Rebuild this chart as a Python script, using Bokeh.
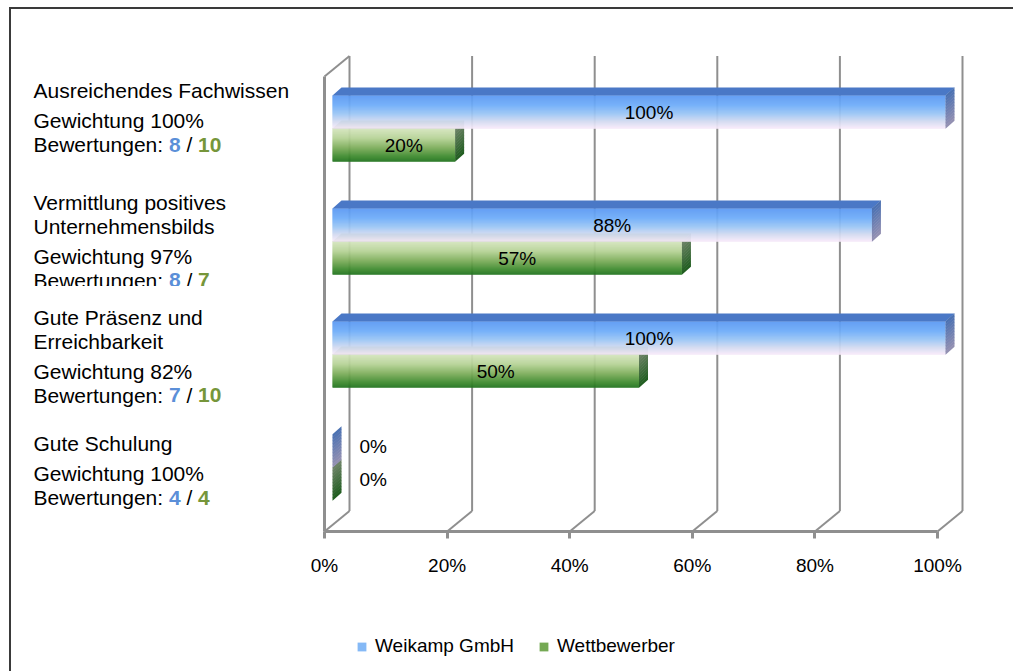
from bokeh.plotting import figure
from bokeh.models import (Range1d, BoxAnnotation, Legend, LegendItem,
                          FixedTicker, PrintfTickFormatter, ColumnDataSource)
from bokeh.embed import file_html
from bokeh.resources import INLINE
from bokeh.core.properties import value

# ---------------- data ----------------
criteria = [["Ausreichendes Fachwissen"],
            ["Vermittlung positives", "Unternehmensbilds"],
            ["Gute Präsenz und", "Erreichbarkeit"],
            ["Gute Schulung"]]
weights = [100, 97, 82, 100]
ratings_weikamp = [8, 8, 7, 4]
ratings_competitor = [10, 7, 10, 4]
weikamp = [100, 88, 100, 0]
competitor = [20, 57, 50, 0]
series_names = ["Weikamp GmbH", "Wettbewerber"]
x_ticks = [0, 20, 40, 60, 80, 100]

# ---------------- layout ----------------
W, H = 1013, 671
PX0 = 324.0      # screen x of 0 %
PXU = 6.13       # pixels per percent
FLOOR = 531      # screen y of the floor front edge
FONT = "Liberation Sans"
GRID = "#8f8f8f"


def X(px):
    return (px - PX0) / PXU


def Y(py):
    return FLOOR - py


def dxu(px):
    return px / PXU


p = figure(width=W, height=H, output_backend="svg", toolbar_location=None,
           x_range=Range1d(X(0), X(W)), y_range=Range1d(Y(H), Y(0)),
           y_axis_location=None, min_border=0,
           min_border_left=0, min_border_right=0, min_border_top=0, min_border_bottom=0)
p.outline_line_color = None
p.grid.visible = False
p.background_fill_color = "white"
p.border_fill_color = "white"

# outer frame (only its left and top edges lie inside the picture), as filled strips
p.quad(left=[X(8.5), X(8.5)], right=[X(10.5), X(W)], top=[Y(6.5), Y(6.5)],
       bottom=[Y(H), Y(8.5)], fill_color="#3a3a3a", line_color=None)

# ---- 3D walls ----
WDX, WDY = dxu(25), 20.5
FRONT_TOP = Y(76)
p.segment(x0=[t + WDX for t in x_ticks], y0=[WDY] * len(x_ticks),
          x1=[t + WDX for t in x_ticks], y1=[FRONT_TOP + WDY] * len(x_ticks),
          line_color=GRID, line_width=2)
p.segment(x0=x_ticks, y0=[0] * len(x_ticks), x1=[t + WDX for t in x_ticks],
          y1=[WDY] * len(x_ticks), line_color=GRID, line_width=2)
p.segment(x0=[0], y0=[0], x1=[0], y1=[FRONT_TOP], line_color=GRID, line_width=3)
p.segment(x0=[0], y0=[FRONT_TOP], x1=[WDX], y1=[FRONT_TOP + WDY],
          line_color=GRID, line_width=2)

# ---- bars ----
BAR_X0 = dxu(8)
BDX, BDY = dxu(9), 8
STEP, BH = 113, 33
N = 33
M = 11

BLUE_FRONT = [(0.0, (90, 152, 242)), (0.3, (110, 172, 248)), (0.55, (152, 196, 245)),
              (0.8, (210, 218, 240)), (1.0, (247, 234, 250))]
GREEN_FRONT = [(0.0, (214, 230, 192)), (0.3, (182, 210, 150)), (0.6, (122, 172, 88)),
               (0.85, (62, 138, 46)), (1.0, (34, 116, 30))]
BLUE_SIDE = [(0.0, (72, 112, 178)), (1.0, (150, 145, 178))]
GREEN_SIDE = [(0.0, (112, 132, 105)), (1.0, (30, 92, 30))]
BLUE_TOP = "#4a78c6"
GREEN_TOP = "#6e9a5a"


def lerp(stops, t):
    for (t0, c0), (t1, c1) in zip(stops[:-1], stops[1:]):
        if t <= t1:
            f = 0 if t1 == t0 else (t - t0) / (t1 - t0)
            return "#%02x%02x%02x" % tuple(int(round(a + (b - a) * f)) for a, b in zip(c0, c1))
    return "#%02x%02x%02x" % stops[-1][1]


blue_tops = [Y(128 + STEP * k) + BH for k in range(len(weikamp))]
green_tops = [Y(128 + STEP * k) for k in range(len(competitor))]


def draw_bar_series(vals, tops, front, side, topc):
    d = dict(y=[], left=[], right=[], color=[])
    for v, yt in zip(vals, tops):
        for j in range(N):
            d["y"].append(yt - (j + 0.5) * BH / N)
            d["left"].append(BAR_X0)
            d["right"].append(BAR_X0 + v)
            d["color"].append(lerp(front, (j + 0.5) / N))
    r = p.hbar(y="y", left="left", right="right", height=BH / N * 1.35,
               fill_color="color", line_color=None, source=ColumnDataSource(d))
    # top faces
    xs, ys = [], []
    for v, yt in zip(vals, tops):
        xl, xr = BAR_X0, BAR_X0 + v
        xs.append([xl, xr, xr + BDX, xl + BDX])
        ys.append([yt, yt, yt + BDY, yt + BDY])
    p.patches(xs=xs, ys=ys, fill_color=topc, line_color=None)
    # side faces
    sxs, sys_, scol = [], [], []
    for v, yt in zip(vals, tops):
        xr = BAR_X0 + v
        for j in range(M):
            y0 = yt - j * BH / M + 0.2
            y1 = yt - (j + 1) * BH / M - 0.2
            sxs.append([xr, xr + BDX, xr + BDX, xr])
            sys_.append([y0, y0 + BDY, y1 + BDY, y1])
            scol.append(lerp(side, (j + 0.5) / M))
    p.patches(xs=sxs, ys=sys_, fill_color=scol, line_color=None)
    return r


r_green = draw_bar_series(competitor, green_tops, GREEN_FRONT, GREEN_SIDE, GREEN_TOP)
r_blue = draw_bar_series(weikamp, blue_tops, BLUE_FRONT, BLUE_SIDE, BLUE_TOP)

# ---- data labels ----
lab_x, lab_y, lab_t = [], [], []
zl_x, zl_y, zl_t = [], [], []
for vals, tops in ((weikamp, blue_tops), (competitor, green_tops)):
    for v, yt in zip(vals, tops):
        if v > 0:
            lab_x.append(BAR_X0 + v / 2)
            lab_y.append(yt - BH / 2)
            lab_t.append("%d%%" % v)
        else:
            zl_x.append(BAR_X0 + v + BDX)
            zl_y.append(yt - BH / 2)
            zl_t.append("%d%%" % v)
p.text(x=lab_x, y=lab_y, text=lab_t, text_align="center", text_baseline="middle",
       x_offset=10, text_font=value(FONT), text_font_size="19px", text_color="#000000")
p.text(x=zl_x, y=zl_y, text=zl_t, text_align="left", text_baseline="middle",
       x_offset=18, y_offset=-5, text_font=value(FONT), text_font_size="19px",
       text_color="#000000")

# ---- x axis (drawn at the floor) ----
ax = p.xaxis[0]
ax.fixed_location = 0
ax.ticker = FixedTicker(ticks=x_ticks)
ax.formatter = PrintfTickFormatter(format="%d%%")
ax.bounds = (0, 100)
ax.axis_line_color = GRID
ax.axis_line_width = 3
ax.major_tick_line_color = GRID
ax.major_tick_line_width = 3
ax.major_tick_out = 7
ax.major_tick_in = 0
ax.minor_tick_line_color = None
ax.major_label_standoff = 16
ax.major_label_text_font = FONT
ax.major_label_text_font_size = "19px"
ax.major_label_text_color = "#000000"

# ---- legend ----
legend = Legend(items=[LegendItem(label=series_names[0], renderers=[r_blue], index=14),
                       LegendItem(label=series_names[1], renderers=[r_green], index=20)],
                location=(356, H - 657), orientation="horizontal",
                label_text_font=FONT, label_text_font_size="19px",
                label_text_color="#000000",
                glyph_width=11, glyph_height=11, label_standoff=8, spacing=24,
                padding=0, margin=0, border_line_color=None, background_fill_alpha=0)
p.add_layout(legend)

# ---- left category texts ----
BLUE_NUM = "#5b8fd8"
GREEN_NUM = "#76963a"
AW = {"B": 667, "e": 556, "w": 722, "r": 333, "t": 278, "u": 556, "n": 556,
      "g": 556, ":": 278, " ": 278, "/": 278}


def tw(s, size):
    return sum(AW.get(c, 556) for c in s) * size / 1000.0


TX = 33
TS = 21
block_tops = [90, 202, 317, 443]
plain = dict(x=[], y=[], text=[])
colored = dict(x=[], y=[], text=[], off=[], color=[], style=[])
for k in range(len(criteria)):
    yy = block_tops[k]
    for i, line in enumerate(criteria[k]):
        plain["x"].append(X(TX)); plain["y"].append(Y(yy)); plain["text"].append(line)
        if i < len(criteria[k]) - 1:
            yy += 23.5
    yy += 30
    plain["x"].append(X(TX)); plain["y"].append(Y(yy))
    plain["text"].append("Gewichtung %d%%" % weights[k])
    yy += 24
    w1, w2 = str(ratings_weikamp[k]), str(ratings_competitor[k])
    parts = [("Bewertungen:", 0.0, "#000000", "normal"),
             (w1, tw("Bewertungen: ", TS), BLUE_NUM, "bold"),
             ("/", tw("Bewertungen: ", TS) + tw(w1, TS) + tw(" ", TS), "#000000", "normal"),
             (w2, tw("Bewertungen: ", TS) + tw(w1, TS) + tw(" / ", TS), GREEN_NUM, "bold")]
    for txt, off, col, st in parts:
        colored["x"].append(X(TX)); colored["y"].append(Y(yy)); colored["text"].append(txt)
        colored["off"].append(off); colored["color"].append(col); colored["style"].append(st)

p.text(x="x", y="y", text="text", source=ColumnDataSource(plain),
       text_font=value(FONT), text_font_size="%dpx" % TS, text_baseline="middle",
       text_color="#000000")
p.text(x="x", y="y", text="text", x_offset="off", text_color="color",
       text_font_style="style", source=ColumnDataSource(colored),
       text_font=value(FONT), text_font_size="%dpx" % TS, text_baseline="middle")

# clipped line under group 2 (as in the original)
p.add_layout(BoxAnnotation(left=X(25), right=X(300), top=Y(285.5), bottom=Y(293),
                           fill_color="white", fill_alpha=1, line_color=None))

open("out.html", "w").write(file_html(p, INLINE))
